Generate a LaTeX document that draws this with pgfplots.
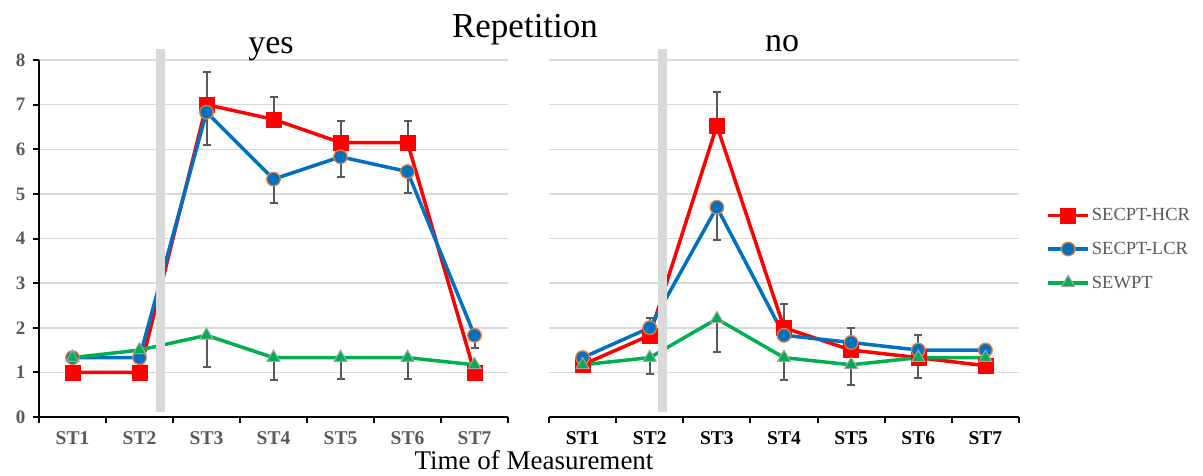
\documentclass[border=0pt]{standalone}
\usepackage{pgfplots}
\pgfplotsset{compat=1.18}
\usepackage{fontspec}
\setmainfont{Liberation Serif}
\definecolor{hcr}{HTML}{FF0000}
\definecolor{lcr}{HTML}{0070C0}
\definecolor{lcredge}{HTML}{ED7D31}
\definecolor{sewpt}{HTML}{00B050}
\definecolor{triedge}{HTML}{A5A5A5}
\definecolor{txtgray}{HTML}{595959}
\definecolor{errgray}{HTML}{595959}
\definecolor{gridgray}{HTML}{D9D9D9}
\definecolor{bandgray}{HTML}{D9D9D9}

\pgfplotsset{
  panel/.style={
    scale only axis, width=469pt, height=357pt, anchor=south west,
    xmin=0.5, xmax=7.5, ymin=0, ymax=8,
    clip=false,
    axis x line*=bottom, axis y line*=left,
    axis line style={-, black, line width=2.6pt},
    xtick={1,...,7}, xticklabels={ST1,ST2,ST3,ST4,ST5,ST6,ST7},
    minor xtick={0.5,1.5,...,7.5},
    every major x tick/.append style={draw=none},
    every minor x tick/.append style={black, line width=2pt},
    minor tick length=6pt, major tick length=6pt,
    tick align=outside,
    ymajorgrids, major grid style={gridgray, line width=1.5pt},
    ytick={0,...,8},
    xticklabel style={font=\fontsize{19.5}{21}\selectfont\bfseries, yshift=-5pt},
  },
  errbar/.style={only marks, mark=none, forget plot,
    error bars/.cd, y explicit, y dir=#1,
    error bar style={draw=errgray, line width=2pt, solid},
    error mark options={rotate=90, mark size=4pt, line width=2pt, draw=errgray}},
  hcrstyle/.style={hcr, line width=3.5pt, mark=square*, mark size=7.5pt, mark options={solid, fill=hcr, draw=hcr, line width=0.5pt}},
  lcrstyle/.style={lcr, line width=3.5pt, mark=*, mark size=6.8pt, mark options={solid, fill=lcr, draw=lcredge, line width=1.3pt}},
  sewstyle/.style={sewpt, line width=3.5pt, mark=triangle*, mark size=7.5pt, mark options={solid, fill=sewpt, draw=triedge, line width=1pt}},
}

\begin{document}
\begin{tikzpicture}[x=1pt,y=1pt]
\useasboundingbox (0,0) rectangle (1203,475);

% ---------- left panel: yes ----------
\begin{axis}[panel, at={(39pt,58pt)},
  yticklabels={0,1,2,3,4,5,6,7,8},
  ytick style={black, line width=2pt},
  yticklabel style={font=\fontsize{19}{21}\selectfont\bfseries, text=txtgray, xshift=-4pt},
  xticklabel style={text=txtgray},
]
\addplot[errbar=plus] coordinates {(3,7.0) +- (0,0.73) (4,6.67) +- (0,0.5) (5,6.15) +- (0,0.48) (6,6.15) +- (0,0.48)};
\addplot[errbar=minus] coordinates {(3,6.83) +- (0,0.73) (4,5.33) +- (0,0.53) (5,5.83) +- (0,0.46) (6,5.5) +- (0,0.48) (7,1.83) +- (0,0.28)};
\addplot[errbar=minus] coordinates {(3,1.83) +- (0,0.72) (4,1.33) +- (0,0.51) (5,1.33) +- (0,0.47) (6,1.33) +- (0,0.47)};
\addplot[hcrstyle] coordinates {(1,1.0) (2,1.0) (3,7.0) (4,6.67) (5,6.15) (6,6.15) (7,1.0)};
\addplot[lcrstyle] coordinates {(1,1.33) (2,1.33) (3,6.83) (4,5.33) (5,5.83) (6,5.5) (7,1.83)};
\addplot[sewstyle] coordinates {(1,1.33) (2,1.5) (3,1.83) (4,1.33) (5,1.33) (6,1.33) (7,1.17)};
\fill[bandgray] (axis cs:2.25,0.11) rectangle (axis cs:2.38,8.25);
\end{axis}

% ---------- right panel: no ----------
\begin{axis}[panel, at={(549pt,58pt)}, width=470pt,
  yticklabels={},
  y axis line style={draw=none},
  ytick style={draw=none},
  ytick={1,...,8},
  xticklabel style={text=black},
  legend style={at={(1.058,0.4706)}, anchor=west, draw=none, fill=none,
    font=\fontsize{18.5}{21}\selectfont, text=txtgray,
    row sep=16pt, inner sep=0pt,
    nodes={inner sep=2pt}},
  legend cell align=left,
  legend image code/.code={
    \draw[mark repeat=2, mark phase=2] plot coordinates {(0pt,0pt) (20pt,0pt) (40pt,0pt)};},
]
\addplot[errbar=plus] coordinates {(2,1.83) +- (0,0.39) (3,6.53) +- (0,0.76) (4,2.0) +- (0,0.54) (5,1.5) +- (0,0.5) (6,1.33) +- (0,0.5)};
\addplot[errbar=minus] coordinates {(3,4.7) +- (0,0.74)};
\addplot[errbar=minus] coordinates {(2,1.33) +- (0,0.36) (3,2.2) +- (0,0.74) (4,1.33) +- (0,0.49) (5,1.17) +- (0,0.46) (6,1.33) +- (0,0.45)};
\addplot[hcrstyle] coordinates {(1,1.17) (2,1.83) (3,6.53) (4,2.0) (5,1.5) (6,1.33) (7,1.15)};
\addlegendentry{SECPT-HCR}
\addplot[lcrstyle] coordinates {(1,1.33) (2,2.0) (3,4.7) (4,1.83) (5,1.67) (6,1.5) (7,1.5)};
\addlegendentry{SECPT-LCR}
\addplot[sewstyle] coordinates {(1,1.17) (2,1.33) (3,2.2) (4,1.33) (5,1.17) (6,1.33) (7,1.33)};
\addlegendentry{SEWPT}
\fill[bandgray] (axis cs:2.124,0.11) rectangle (axis cs:2.258,8.25);
\end{axis}

\node[anchor=base, font=\fontsize{35}{38}\selectfont] at (525,437) {Repetition};
\node[anchor=base, font=\fontsize{34}{36}\selectfont] at (271,421) {yes};
\node[anchor=base, font=\fontsize{34}{36}\selectfont] at (782,423) {no};
\node[anchor=base, font=\fontsize{27}{29}\selectfont] at (534,6) {Time of Measurement};
\end{tikzpicture}
\end{document}
